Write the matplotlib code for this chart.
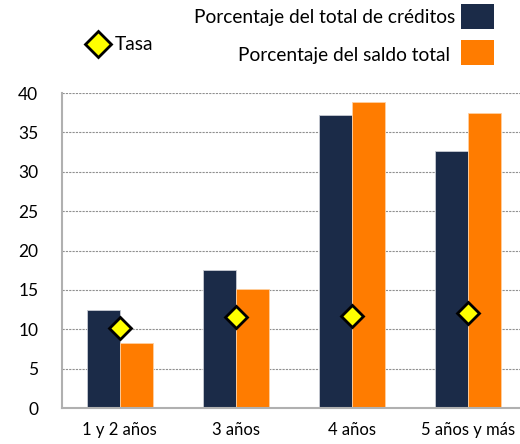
import matplotlib
matplotlib.use("Agg")
import matplotlib.pyplot as plt
import numpy as np
from matplotlib.patches import Rectangle
from matplotlib.lines import Line2D

categories = ["1 y 2 años", "3 años", "4 años", "5 años y más"]
creditos = [12.5, 17.5, 37.2, 32.7]
saldo = [8.3, 15.1, 38.9, 37.5]
tasa = [10.2, 11.6, 11.7, 12.1]
yticks = [0, 5, 10, 15, 20, 25, 30, 35, 40]

navy = "#1B2B48"
orange = "#FF7C00"

plt.rcParams['font.family'] = ['Lato', 'DejaVu Sans']

fig = plt.figure(figsize=(5.2, 4.44), dpi=100)
ax = fig.add_axes([0.119, 0.081, 0.881, 0.7095])

x = np.arange(len(categories))
w = 0.285
ax.bar(x - w/2, creditos, w, color=navy, edgecolor="#c8ccd4", linewidth=0.6, zorder=2)
ax.bar(x + w/2, saldo, w, color=orange, edgecolor="#ffd0a0", linewidth=0.6, zorder=2)
ax.plot(x, tasa, linestyle="none", marker="D", markersize=11, markerfacecolor="#FFFF00",
        markeredgecolor="black", markeredgewidth=2, zorder=3)

ax.set_ylim(0, 40)
ax.set_xlim(-0.5, 3.45)
ax.set_yticks(yticks)
ax.set_xticks(x)
ax.set_xticklabels(categories)
ax.yaxis.grid(True, linestyle=(0, (2, 1)), color="#909090", linewidth=0.8, zorder=0)
ax.set_axisbelow(True)
for s in ["top", "right"]:
    ax.spines[s].set_visible(False)
for s in ["left", "bottom"]:
    ax.spines[s].set_color("#b0b0b0")
    ax.spines[s].set_linewidth(1.5)
ax.tick_params(axis="y", length=0, pad=17, labelsize=12.5)
ax.tick_params(axis="x", length=0, pad=10, labelsize=12)

# Legend
fig.text(455/520, 1 - 18/444, "Porcentaje del total de créditos", ha="right", va="center", fontsize=13.8)
fig.text(450/520, 1 - 56/444, "Porcentaje del saldo total", ha="right", va="center", fontsize=13.8)
fig.add_artist(Rectangle((461/520, 1 - 29/444), 33/520, 25/444, transform=fig.transFigure,
                         facecolor=navy, edgecolor="none"))
fig.add_artist(Rectangle((461/520, 1 - 65/444), 33/520, 25/444, transform=fig.transFigure,
                         facecolor=orange, edgecolor="none"))
fig.add_artist(Line2D([98/520], [1 - 44/444], transform=fig.transFigure, marker="D",
                      markersize=13, markerfacecolor="#FFFF00", markeredgecolor="black",
                      markeredgewidth=2, linestyle="none"))
fig.text(115/520, 1 - 44/444, "Tasa", ha="left", va="center", fontsize=13.8)

fig.savefig("out.png", dpi=100)
